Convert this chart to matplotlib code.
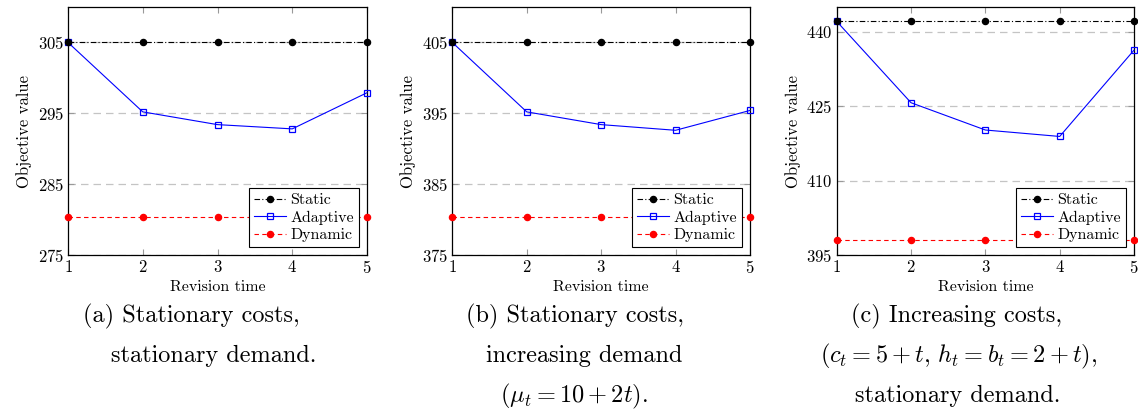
import matplotlib
matplotlib.use("Agg")
import matplotlib.pyplot as plt

plt.rcParams['font.family'] = ['cmr10', 'DejaVu Serif']
plt.rcParams['mathtext.fontset'] = 'cm'
plt.rcParams['axes.formatter.use_mathtext'] = True

t = [1, 2, 3, 4, 5]

static_a = [305, 305, 305, 305, 305]
adaptive_a = [305, 295.2, 293.4, 292.8, 297.9]
dynamic_a = [280.4, 280.4, 280.4, 280.4, 280.4]

static_b = [405, 405, 405, 405, 405]
adaptive_b = [405, 395.2, 393.4, 392.6, 395.4]
dynamic_b = [380.3, 380.3, 380.3, 380.3, 380.3]

static_c = [442.1, 442.1, 442.1, 442.1, 442.1]
adaptive_c = [442.1, 425.7, 420.2, 418.9, 436.3]
dynamic_c = [398.1, 398.1, 398.1, 398.1, 398.1]

yticks_a = [275, 285, 295, 305]
yticks_b = [375, 385, 395, 405]
yticks_c = [395, 410, 425, 440]
ylims = [(275, 310), (375, 410), (395, 445)]

captions = [
    [("(a) Stationary costs,", 191), ("stationary demand.", 214)],
    [("(b) Stationary costs,", 575), ("increasing demand", 584), (r"$(\mu_t = 10 + 2t)$.", 574)],
    [("(c) Increasing costs,", 957), (r"$(c_t = 5 + t,\, h_t = b_t = 2 + t)$,", 959), ("stationary demand.", 958)],
]

W, H = 1138, 411
fig = plt.figure(figsize=(W / 100, H / 100), dpi=100)

lefts = [68, 452.3, 836.7]
rights = [367, 750, 1134]
top_px, bot_px = 7, 255

data = [(static_a, adaptive_a, dynamic_a, yticks_a),
        (static_b, adaptive_b, dynamic_b, yticks_b),
        (static_c, adaptive_c, dynamic_c, yticks_c)]

for i, (st, ad, dy, yt) in enumerate(data):
    ax = fig.add_axes([lefts[i] / W, (H - bot_px) / H,
                       (rights[i] - lefts[i]) / W, (bot_px - top_px) / H])
    ax.set_xlim(1, 5)
    ax.set_ylim(*ylims[i])
    ax.set_xticks(t)
    ax.set_yticks(yt)
    for y in yt:
        ax.axhline(y, color='#c4c4c4', lw=0.9, ls=(0, (6, 4)), zorder=0)
    ax.plot(t, ad, color='blue', lw=0.8, marker='s', ms=4.6, mfc='none',
            mec='blue', mew=0.9, label='Adaptive', zorder=3, clip_on=False)
    ax.plot(t, st, color='black', lw=0.8, ls=(0, (5, 2, 1, 2)), marker='o',
            ms=4.4, label='Static', zorder=4, clip_on=False)
    ax.plot(t, dy, color='red', lw=0.8, ls=(0, (4, 3)), marker='o', ms=4.4,
            label='Dynamic', zorder=4, clip_on=False)
    ax.tick_params(direction='in', length=4, width=0.8, color='#999999',
                   top=True, right=True, labelsize=12, pad=3)
    for s in ax.spines.values():
        s.set_linewidth(0.9)
    ax.set_xlabel('Revision time', fontsize=11.5, labelpad=3)
    ax.set_ylabel('Objective value', fontsize=12, labelpad=4)
    h, l = ax.get_legend_handles_labels()
    order = [1, 0, 2]
    leg = ax.legend([h[k] for k in order], [l[k] for k in order],
                    loc='lower right', fontsize=11.5, frameon=True, fancybox=False,
                    edgecolor='black', framealpha=1, borderaxespad=0.5,
                    handlelength=2.0, handletextpad=0.3, labelspacing=0.2,
                    borderpad=0.3)
    leg.get_frame().set_linewidth(0.8)
    for k, (txt, xc) in enumerate(captions[i]):
        fig.text(xc / W, 1 - (316 + 40 * k) / H, txt, ha='center', va='center',
                 fontsize=17.5)

fig.savefig('out.png', dpi=100)
